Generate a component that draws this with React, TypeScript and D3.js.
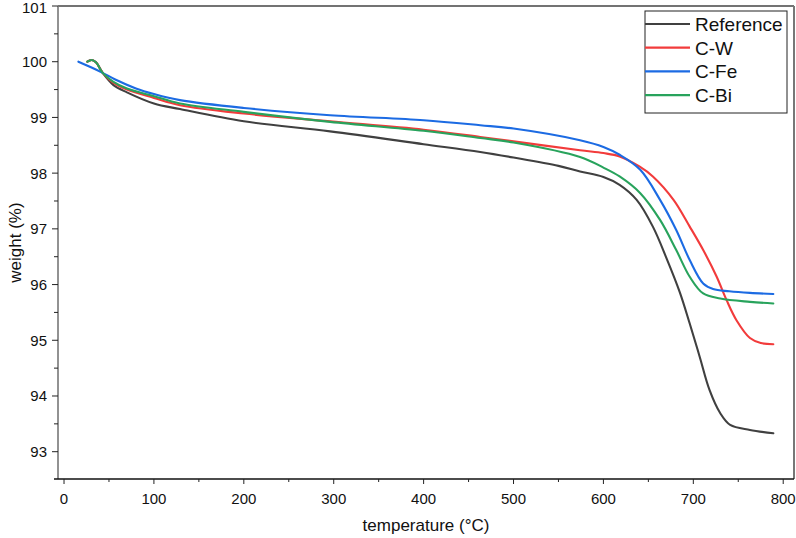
import React from "react";
import * as d3 from "d3";

// TGA curves: temperature (°C) vs weight (%)
const refTemp = [26, 30, 35, 43, 55, 70, 100, 129, 200, 296, 400, 463, 500, 550, 574, 600, 618, 637, 655, 670, 685, 696, 707, 718, 730, 741, 763, 789];
const refWeight = [100.0, 100.03, 100.0, 99.8, 99.58, 99.45, 99.25, 99.15, 98.93, 98.75, 98.52, 98.38, 98.28, 98.13, 98.03, 97.93, 97.79, 97.52, 97.04, 96.48, 95.86, 95.3, 94.71, 94.11, 93.69, 93.48, 93.39, 93.33];

const cwTemp = [26, 31, 36, 43, 55, 70, 100, 129, 200, 296, 400, 463, 500, 574, 600, 618, 640, 655, 678, 696, 711, 726, 737, 748, 763, 775, 789];
const cwWeight = [100.0, 100.03, 99.98, 99.8, 99.62, 99.5, 99.35, 99.22, 99.07, 98.93, 98.78, 98.65, 98.57, 98.41, 98.36, 98.3, 98.12, 97.94, 97.52, 97.04, 96.62, 96.14, 95.72, 95.36, 95.04, 94.95, 94.93];

const cfeTemp = [16, 30, 43, 57, 80, 100, 129, 200, 296, 400, 463, 500, 574, 600, 618, 641, 663, 681, 696, 711, 722, 740, 763, 789];
const cfeWeight = [100.0, 99.9, 99.8, 99.68, 99.52, 99.42, 99.31, 99.17, 99.04, 98.95, 98.86, 98.8, 98.59, 98.47, 98.33, 98.06, 97.52, 96.98, 96.44, 96.02, 95.92, 95.88, 95.85, 95.83];

const cbiTemp = [26, 31, 36, 43, 55, 70, 100, 129, 200, 296, 400, 463, 500, 574, 600, 618, 641, 663, 681, 696, 711, 730, 763, 789];
const cbiWeight = [100.0, 100.03, 99.98, 99.8, 99.64, 99.52, 99.38, 99.25, 99.1, 98.92, 98.76, 98.63, 98.55, 98.29, 98.1, 97.94, 97.64, 97.16, 96.62, 96.14, 95.84, 95.75, 95.69, 95.66];

const seriesNames = ["Reference", "C-W", "C-Fe", "C-Bi"];
const seriesColors = ["#404040", "#f23b3b", "#1c6be3", "#28a35c"];

const xTicks = [0, 100, 200, 300, 400, 500, 600, 700, 800];
const yTicks = [93, 94, 95, 96, 97, 98, 99, 100, 101];

const W = 796;
const H = 538;
const FONT = "'Liberation Sans', Arial, sans-serif";

const App = () => {
  const left = 58;
  const right = 794;
  const top = 6;
  const bottom = 479;

  const x = d3.scaleLinear().domain([-6.7, 812]).range([left, right]);
  const y = d3.scaleLinear().domain([92.51, 101]).range([bottom, top]);

  const series = [
    { temp: refTemp, weight: refWeight },
    { temp: cwTemp, weight: cwWeight },
    { temp: cfeTemp, weight: cfeWeight },
    { temp: cbiTemp, weight: cbiWeight },
  ];

  const line = d3
    .line<[number, number]>()
    .x((d) => x(d[0]))
    .y((d) => y(d[1]))
    .curve(d3.curveCatmullRom.alpha(0.5));

  const xMinor = xTicks.slice(0, -1).map((t) => t + 50);
  const yMinor = yTicks.slice(0, -1).map((t) => t + 0.5);

  // legend layout
  const legX = 645;
  const legY = 11;
  const legW = 142;
  const legH = 102;
  const rowY = (i: number) => 24 + i * 23.7;

  return (
    <svg
      width={W}
      height={H}
      style={{ position: "absolute", left: 0, top: 0, background: "#fff" }}
      fontFamily={FONT}
    >
      {/* curves */}
      <g fill="none" strokeWidth={2.1} strokeLinejoin="round" strokeLinecap="round">
        {series.map((s, i) => (
          <path
            key={seriesNames[i]}
            d={line(s.temp.map((t, k) => [t, s.weight[k]] as [number, number])) || ""}
            stroke={seriesColors[i]}
          />
        ))}
      </g>

      {/* frame */}
      <line x1={left} x2={right} y1={top} y2={top} stroke="#444" strokeWidth={1.3} />
      <line x1={right} x2={right} y1={top} y2={bottom} stroke="#777" strokeWidth={2} />
      <line x1={left} x2={left} y1={top} y2={bottom} stroke="#777" strokeWidth={1.6} />
      <line x1={left - 4} x2={right} y1={bottom} y2={bottom} stroke="#111" strokeWidth={1.3} />

      {/* x axis */}
      <g>
        {xTicks.map((t) => (
          <g key={t}>
            <line x1={x(t)} x2={x(t)} y1={bottom} y2={bottom + 5} stroke="#222" strokeWidth={1} />
            <text x={x(t)} y={504} textAnchor="middle" fontSize={15} fill="#111">
              {t}
            </text>
          </g>
        ))}
        {xMinor.map((t) => (
          <line key={t} x1={x(t)} x2={x(t)} y1={bottom} y2={bottom + 3} stroke="#222" strokeWidth={1} />
        ))}
        <text x={(left + right) / 2} y={531} textAnchor="middle" fontSize={17} fill="#111">
          temperature (°C)
        </text>
      </g>

      {/* y axis */}
      <g>
        {yTicks.map((t) => (
          <g key={t}>
            <line x1={left - 6} x2={left} y1={y(t)} y2={y(t)} stroke="#222" strokeWidth={1} />
            <text x={47} y={Math.max(y(t) + 5.5, 12.5)} textAnchor="end" fontSize={15} fill="#111">
              {t}
            </text>
          </g>
        ))}
        {yMinor.map((t) => (
          <line key={t} x1={left - 4} x2={left} y1={y(t)} y2={y(t)} stroke="#222" strokeWidth={1} />
        ))}
        <text
          transform={`translate(21,${(top + bottom) / 2}) rotate(-90)`}
          textAnchor="middle"
          fontSize={17}
          fill="#111"
        >
          weight (%)
        </text>
      </g>

      {/* legend */}
      <g>
        <rect x={legX} y={legY} width={legW} height={legH} fill="#fff" stroke="#222" strokeWidth={1} />
        {seriesNames.map((name, i) => (
          <g key={name}>
            <line x1={legX} x2={legX + 45} y1={rowY(i)} y2={rowY(i)} stroke={seriesColors[i]} strokeWidth={2.2} />
            <text x={legX + 50} y={rowY(i) + 7} fontSize={19} fill="#111">
              {name}
            </text>
          </g>
        ))}
      </g>
    </svg>
  );
};

export default App;
